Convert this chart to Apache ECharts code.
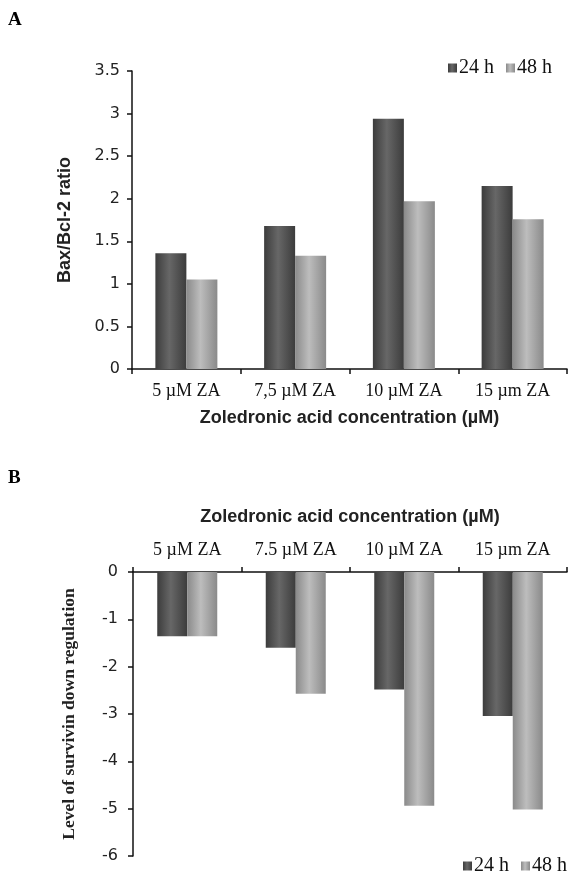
<!DOCTYPE html>
<html>
<head>
<meta charset="utf-8">
<script src="https://cdn.jsdelivr.net/npm/echarts@6/dist/echarts.min.js"></script>
<style>
html,body{margin:0;padding:0;background:#fff;}
#c{width:577px;height:878px;}
</style>
</head>
<body>
<div id="c"></div>
<script>
// ---- data ----
const categoriesA = ['5 µM ZA', '7,5 µM ZA', '10 µM ZA', '15 µm ZA'];
const categoriesB = ['5 µM ZA', '7.5 µM ZA', '10 µM ZA', '15 µm ZA'];
const seriesNames = ['24 h', '48 h'];
const baxBcl2_24h = [1.36, 1.68, 2.94, 2.15];
const baxBcl2_48h = [1.05, 1.33, 1.97, 1.76];
const survivin_24h = [-1.36, -1.60, -2.48, -3.04];
const survivin_48h = [-1.36, -2.57, -4.94, -5.02];
const ticksA = { min: 0, max: 3.5, step: 0.5 };
const ticksB = { min: -6, max: 0, step: 1 };

// ---- styles ----
function grad(edge, mid) {
  return new echarts.graphic.LinearGradient(0, 0, 1, 0, [
    { offset: 0, color: edge },
    { offset: 0.45, color: mid },
    { offset: 1, color: edge }
  ]);
}
const dark = grad('#3c3c3c', '#676767');
const light = grad('#8a8a8a', '#bdbdbd');
const serif = '"Liberation Serif", "Times New Roman", serif';
const sans = '"Liberation Sans", Arial, sans-serif';
const tickFont = '"DejaVu Sans", "Liberation Sans", sans-serif';

const chart = echarts.init(document.getElementById('c'), null, { renderer: 'canvas' });

const axisLine = { show: true, lineStyle: { color: '#111', width: 1.5 } };
const axisTick = { show: true, length: 5, lineStyle: { color: '#111', width: 1.5 } };
const catLabel = { color: '#111', fontFamily: serif, fontSize: 18, margin: 13, interval: 0, hideOverlap: false };

chart.setOption({
  animation: false,
  backgroundColor: '#fff',
  graphic: [
    { type: 'text', left: 8, top: 11, style: { text: 'A', font: 'bold 19px ' + serif, fill: '#000' } },
    { type: 'text', left: 8, top: 469, style: { text: 'B', font: 'bold 19px ' + serif, fill: '#000' } }
  ],
  legend: [
    {
      data: seriesNames, left: 443, top: 53, itemWidth: 9, itemHeight: 9, itemGap: 12,
      icon: 'rect', selectedMode: false,
      textStyle: { fontFamily: serif, fontSize: 20, color: '#111', padding: [0, 0, 0, -3] }
    },
    {
      data: seriesNames, left: 458, top: 851, itemWidth: 9, itemHeight: 9, itemGap: 12,
      icon: 'rect', selectedMode: false,
      textStyle: { fontFamily: serif, fontSize: 20, color: '#111', padding: [0, 0, 0, -3] }
    }
  ],
  grid: [
    { left: 132, right: 10, top: 71, height: 298 },
    { left: 133, right: 10, top: 572, height: 284 }
  ],
  xAxis: [
    {
      gridIndex: 0, type: 'category', data: categoriesA,
      axisLine: axisLine, axisTick: axisTick, axisLabel: catLabel,
      name: 'Zoledronic acid concentration (µM)', nameLocation: 'middle', nameGap: 40,
      nameTextStyle: { fontFamily: sans, fontWeight: 'bold', fontSize: 18, color: '#222' }
    },
    {
      gridIndex: 1, type: 'category', data: categoriesB, position: 'top',
      axisLine: axisLine, axisTick: axisTick, axisLabel: catLabel,
      name: 'Zoledronic acid concentration (µM)', nameLocation: 'middle', nameGap: 46,
      nameTextStyle: { fontFamily: sans, fontWeight: 'bold', fontSize: 18, color: '#222' }
    }
  ],
  yAxis: [
    {
      gridIndex: 0, type: 'value', min: ticksA.min, max: ticksA.max, interval: ticksA.step,
      axisLine: axisLine, axisTick: axisTick, splitLine: { show: false },
      axisLabel: { color: '#222', fontFamily: tickFont, fontSize: 16, margin: 12 },
      name: 'Bax/Bcl-2 ratio', nameLocation: 'middle', nameGap: 58,
      nameTextStyle: { fontFamily: sans, fontWeight: 'bold', fontSize: 18, color: '#222' }
    },
    {
      gridIndex: 1, type: 'value', min: ticksB.min, max: ticksB.max, interval: ticksB.step,
      axisLine: axisLine, axisTick: axisTick, splitLine: { show: false },
      axisLabel: { color: '#222', fontFamily: tickFont, fontSize: 16, margin: 15 },
      name: 'Level of survivin down regulation', nameLocation: 'middle', nameGap: 55,
      nameTextStyle: { fontFamily: serif, fontWeight: 'bold', fontSize: 17.5, color: '#222' }
    }
  ],
  series: [
    { name: seriesNames[0], type: 'bar', xAxisIndex: 0, yAxisIndex: 0, data: baxBcl2_24h,
      barWidth: 31, barGap: '0%', itemStyle: { color: dark } },
    { name: seriesNames[1], type: 'bar', xAxisIndex: 0, yAxisIndex: 0, data: baxBcl2_48h,
      barWidth: 31, barGap: '0%', itemStyle: { color: light } },
    { name: seriesNames[0], type: 'bar', xAxisIndex: 1, yAxisIndex: 1, data: survivin_24h,
      barWidth: 30, barGap: '0%', itemStyle: { color: dark } },
    { name: seriesNames[1], type: 'bar', xAxisIndex: 1, yAxisIndex: 1, data: survivin_48h,
      barWidth: 30, barGap: '0%', itemStyle: { color: light } }
  ]
});
</script>
</body>
</html>
